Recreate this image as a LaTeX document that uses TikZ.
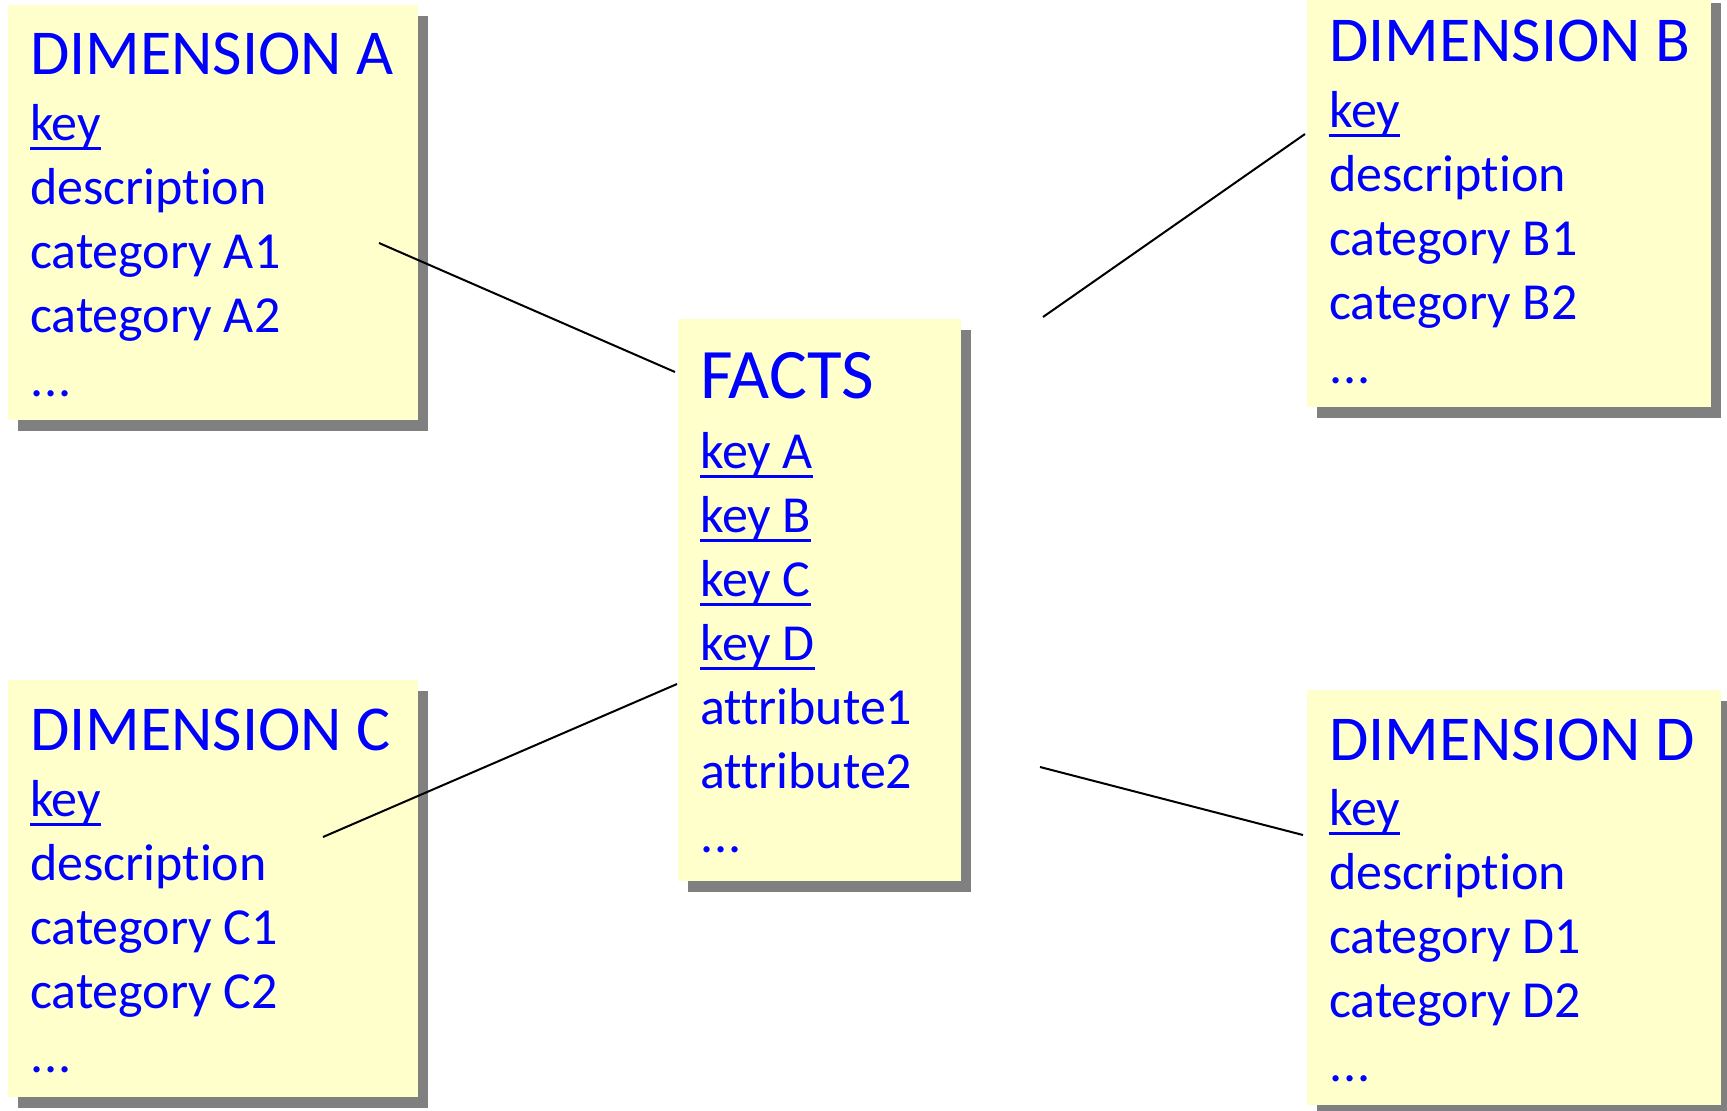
\documentclass[tikz,border=0pt]{standalone}
\usepackage{fontspec}
\setmainfont{Carlito}[Ligatures={NoCommon,NoDiscretionary,NoHistoric}]
\usetikzlibrary{shadows}
\definecolor{boxfill}{HTML}{FFFFCC}
\definecolor{shadowgray}{HTML}{808080}
\definecolor{txtblue}{HTML}{0000FF}
\newcommand\ulkey[1]{\setbox0=\hbox{#1}\rlap{\rule[-10pt]{\wd0}{3.5pt}}\box0}
\newcommand\dotsx{.\kern1pt.\kern1pt.}
\begin{document}
\begin{tikzpicture}[x=1pt,y=-1pt,
  tbox/.style={rectangle, fill=boxfill, draw=none, inner sep=0pt, outer sep=0pt, anchor=north west,
    drop shadow={shadow xshift=10pt, shadow yshift=-11pt, fill=shadowgray, opacity=1}},
  line/.style={anchor=base west, inner sep=0pt, outer sep=0pt, text=txtblue, font=\fontsize{52}{62}\selectfont},
  title/.style={line, font=\fontsize{64}{70}\selectfont},
  bigtitle/.style={line, font=\fontsize{71}{78}\selectfont},
  conn/.style={draw=black, line width=2pt}
]
\useasboundingbox (0,0) rectangle (1727,1111);

% boxes
\node[tbox, minimum width=410pt, minimum height=415pt] (dimA) at (8,5) {};
\node[tbox, minimum width=404pt, minimum height=415pt] (dimB) at (1307,-8) {};
\node[tbox, minimum width=410pt, minimum height=417pt] (dimC) at (8,680) {};
\node[tbox, minimum width=414pt, minimum height=415pt] (dimD) at (1307,690) {};
\node[tbox, minimum width=283pt, minimum height=562pt] (facts) at (678,319) {};

% Dimension A
\node[title] (a0) at (30,74) {DIMENSION A};
\node[line] (a1) at (30,140) {\ulkey{key}};
\node[line] (a2) at (30,204) {description};
\node[line] (a3) at (30,268) {category A1};
\node[line] (a4) at (30,332) {category A2};
\node[line] (a5) at (30,396) {\dotsx};

% Dimension B
\node[title] (b0) at (1329,61) {DIMENSION B};
\node[line] (b1) at (1329,127) {\ulkey{key}};
\node[line] (b2) at (1329,191) {description};
\node[line] (b3) at (1329,255) {category B1};
\node[line] (b4) at (1329,319) {category B2};
\node[line] (b5) at (1329,383) {\dotsx};

% Dimension C
\node[title] (c0) at (30,750) {DIMENSION C};
\node[line] (c1) at (30,816) {\ulkey{key}};
\node[line] (c2) at (30,880) {description};
\node[line] (c3) at (30,944) {category C1};
\node[line] (c4) at (30,1008) {category C2};
\node[line] (c5) at (30,1072) {\dotsx};

% Dimension D
\node[title] (d0) at (1329,760) {DIMENSION D};
\node[line] (d1) at (1329,825) {\ulkey{key}};
\node[line] (d2) at (1329,889) {description};
\node[line] (d3) at (1329,953) {category D1};
\node[line] (d4) at (1329,1017) {category D2};
\node[line] (d5) at (1329,1081) {\dotsx};

% Facts
\node[bigtitle] (f0) at (700,398) {FACTS};
\node[line] (f1) at (700,468) {\ulkey{key A}};
\node[line] (f2) at (700,532) {\ulkey{key B}};
\node[line] (f3) at (700,596) {\ulkey{key C}};
\node[line] (f4) at (700,660) {\ulkey{key D}};
\node[line] (f5) at (700,724) {attribute1};
\node[line] (f6) at (700,788) {attribute2};
\node[line] (f7) at (700,852) {\dotsx};

% connector end points
\coordinate (aS) at ([shift={(371,238)}]dimA.north west);
\coordinate (aE) at ([shift={(-3,53)}]facts.north west);
\coordinate (bS) at ([shift={(82,-2)}]facts.north east);
\coordinate (bE) at ([shift={(-2,142)}]dimB.north west);
\coordinate (cS) at ([shift={(315,157)}]dimC.north west);
\coordinate (cE) at ([shift={(-1,365)}]facts.north west);
\coordinate (dS) at ([shift={(79,448)}]facts.north east);
\coordinate (dE) at ([shift={(-4,145)}]dimD.north west);

\draw[conn] (aS) -- (aE);
\draw[conn] (bS) -- (bE);
\draw[conn] (cS) -- (cE);
\draw[conn] (dS) -- (dE);
\end{tikzpicture}
\end{document}
